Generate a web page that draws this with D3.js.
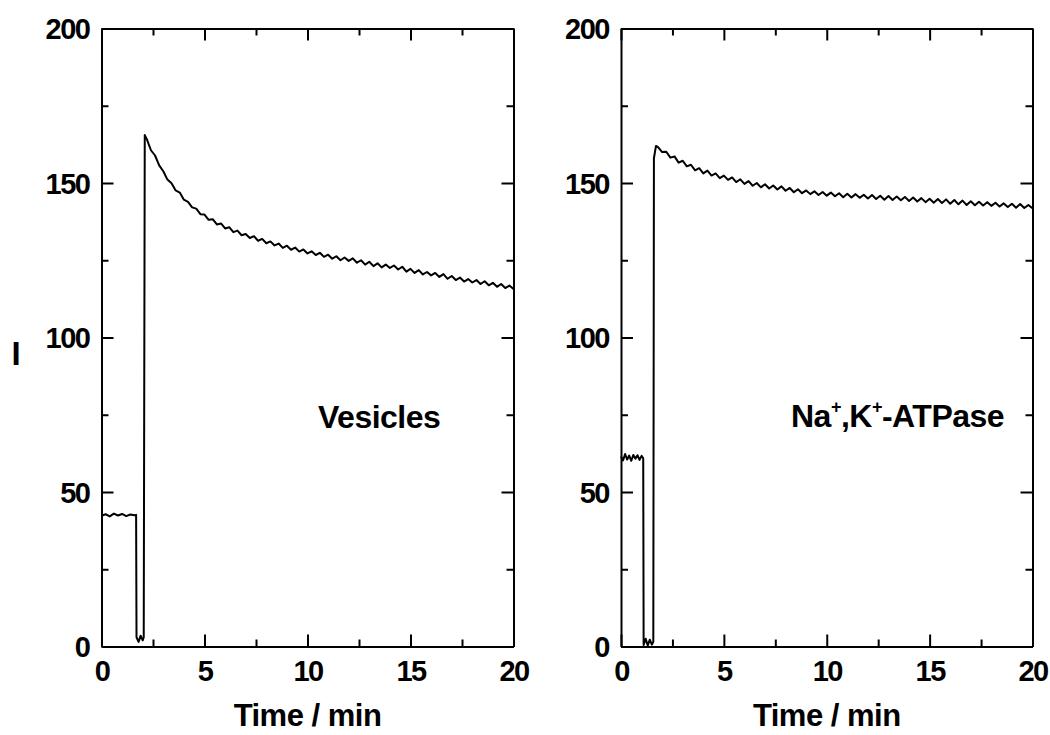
<!DOCTYPE html>
<html lang="en">
<head>
    <meta charset="utf-8">
    <title>Fluorescence intensity - vesicles / Na,K-ATPase</title>
    <script src="https://cdn.jsdelivr.net/npm/d3@7"></script>
    <style>
        body { margin: 0; background: #fff; }
        text { font-family: "Liberation Sans", Arial, sans-serif; font-weight: bold; fill: #000; }
    </style>
</head>
<body>
</body>
</html>
<script>
    // axis ticks
    var xTicks = [0, 5, 10, 15, 20];
    var xMinorTicks = [2.5, 7.5, 12.5, 17.5];
    var yTicks = [0, 50, 100, 150, 200];
    var yMinorTicks = [25, 75, 125, 175];
    var xLabel = "Time / min";
    var yLabel = "I";

    // left panel: vesicles (time in min, intensity)
    var vesiclesTime = [0, 0.2, 0.4, 0.6, 0.8, 1.0, 1.2, 1.4, 1.6, 1.68,
        1.7, 1.8, 1.9, 2.0, 2.05, 2.1,
        2.2, 2.4, 2.6, 2.8, 3.0, 3.2, 3.4, 3.6, 3.8, 4.0,
        4.2, 4.4, 4.6, 4.8, 5.0, 5.2, 5.4, 5.6, 5.8, 6.0,
        6.2, 6.4, 6.6, 6.8, 7.0, 7.2, 7.4, 7.6, 7.8, 8.0,
        8.2, 8.4, 8.6, 8.8, 9.0, 9.2, 9.4, 9.6, 9.8, 10.0,
        10.2, 10.4, 10.6, 10.8, 11.0, 11.2, 11.4, 11.6, 11.8, 12.0,
        12.2, 12.4, 12.6, 12.8, 13.0, 13.2, 13.4, 13.6, 13.8, 14.0,
        14.2, 14.4, 14.6, 14.8, 15.0, 15.2, 15.4, 15.6, 15.8, 16.0,
        16.2, 16.4, 16.6, 16.8, 17.0, 17.2, 17.4, 17.6, 17.8, 18.0,
        18.2, 18.4, 18.6, 18.8, 19.0, 19.2, 19.4, 19.6, 19.8, 20.0];
    var vesiclesI = [42.3, 42.8, 42.1, 43.0, 42.4, 42.9, 42.2, 42.7, 42.5, 42.6,
        3.0, 1.5, 3.5, 2.0, 3.0, 165.5,
        164.2, 160.6, 158.9, 155.7, 153.8, 151.1, 149.9, 147.6, 146.9, 144.6,
        143.9, 142.1, 141.7, 139.9, 139.8, 138.1, 138.3, 136.6, 136.9, 135.3,
        135.7, 134.1, 134.6, 133.1, 133.5, 132.2, 132.8, 131.3, 131.9, 130.5,
        131.1, 129.8, 130.4, 129.0, 129.7, 128.4, 129.1, 127.8, 128.5, 127.2,
        127.9, 126.7, 127.4, 126.1, 126.8, 125.5, 126.3, 125.0, 125.9, 124.8,
        125.6, 124.2, 125.0, 123.6, 124.5, 123.1, 124.0, 122.7, 123.6, 122.5,
        123.3, 122.0, 122.9, 121.3, 122.2, 120.9, 121.8, 120.4, 121.2, 120.1,
        120.9, 119.6, 120.5, 119.0, 119.9, 118.6, 119.4, 118.1, 118.9, 117.8,
        118.6, 117.3, 118.2, 116.9, 117.7, 116.4, 117.3, 116.0, 116.8, 115.7];

    // right panel: Na+,K+-ATPase
    var atpaseTime = [0, 0.1, 0.2, 0.3, 0.4, 0.5, 0.6, 0.7, 0.8, 0.9, 1.0, 1.08,
        1.1, 1.2, 1.3, 1.4, 1.5, 1.57, 1.6, 1.7,
        1.8, 2.0, 2.2, 2.4, 2.6, 2.8, 3.0, 3.2, 3.4, 3.6,
        3.8, 4.0, 4.2, 4.4, 4.6, 4.8, 5.0, 5.2, 5.4, 5.6,
        5.8, 6.0, 6.2, 6.4, 6.6, 6.8, 7.0, 7.2, 7.4, 7.6,
        7.8, 8.0, 8.2, 8.4, 8.6, 8.8, 9.0, 9.2, 9.4, 9.6,
        9.8, 10.0, 10.2, 10.4, 10.6, 10.8, 11.0, 11.2, 11.4, 11.6,
        11.8, 12.0, 12.2, 12.4, 12.6, 12.8, 13.0, 13.2, 13.4, 13.6,
        13.8, 14.0, 14.2, 14.4, 14.6, 14.8, 15.0, 15.2, 15.4, 15.6,
        15.8, 16.0, 16.2, 16.4, 16.6, 16.8, 17.0, 17.2, 17.4, 17.6,
        17.8, 18.0, 18.2, 18.4, 18.6, 18.8, 19.0, 19.2, 19.4, 19.6,
        19.8, 20.0];
    var atpaseI = [61.5, 60.2, 62.3, 60.5, 61.8, 60.1, 62.0, 60.8, 61.9, 60.4, 61.7, 60.9,
        0.5, 2.5, 0.3, 2.2, 0.6, 1.5, 158.0, 162.0,
        161.6, 160.0, 160.1, 158.2, 158.6, 156.6, 157.2, 155.4, 155.9, 154.1,
        154.8, 153.1, 154.0, 152.4, 153.1, 151.6, 152.4, 151.0, 151.8, 150.3,
        151.2, 149.7, 150.6, 149.1, 150.0, 148.6, 149.6, 148.2, 149.2, 147.9,
        148.9, 147.5, 148.4, 147.0, 148.0, 146.7, 147.6, 146.4, 147.3, 146.1,
        147.1, 145.9, 146.9, 145.7, 146.7, 145.4, 146.5, 145.3, 146.4, 145.2,
        146.2, 145.0, 146.1, 144.8, 145.9, 144.6, 145.8, 144.5, 145.6, 144.4,
        145.5, 144.2, 145.3, 144.0, 145.1, 143.8, 144.9, 143.6, 144.8, 143.5,
        144.7, 143.3, 144.5, 143.1, 144.3, 142.9, 144.1, 142.8, 143.9, 142.7,
        143.8, 142.6, 143.6, 142.4, 143.4, 142.2, 143.3, 142.0, 143.2, 141.9,
        142.9, 141.8];

    // canvas
    var width = 1050;
    var height = 735;
    var svg = d3.select("body")
            .append("svg")
            .attr("width", width)
            .attr("height", height);

    var top_y = 28.5;
    var bottom_y = 646.5;

    var panels = [
        {left: 101.5, right: 513.5, time: vesiclesTime, values: vesiclesI},
        {left: 621, right: 1032.5, time: atpaseTime, values: atpaseI}
    ];

    panels.forEach(function (p) {
        var x = d3.scaleLinear().domain([0, 20]).range([p.left, p.right]);
        var y = d3.scaleLinear().domain([0, 200]).range([bottom_y, top_y]);
        var g = svg.append("g");

        // trace
        var line = d3.line()
                .x(function (d) { return x(d[0]); })
                .y(function (d) { return y(d[1]); });
        g.append("path")
                .datum(d3.zip(p.time, p.values))
                .attr("fill", "none")
                .attr("stroke", "#000")
                .attr("stroke-width", 2)
                .attr("stroke-linejoin", "round")
                .attr("d", line);

        // inward ticks on all four sides, major and minor
        function addAxis(axisFn, scale, pos, major, minor, labelled) {
            var ga = g.append("g").attr("transform", pos);
            ga.call(axisFn(scale).tickValues(major).tickSizeInner(-12).tickSizeOuter(0)
                    .tickFormat(labelled ? d3.format("d") : ""));
            var gm = g.append("g").attr("transform", pos);
            gm.call(axisFn(scale).tickValues(minor).tickSizeInner(-7).tickSizeOuter(0).tickFormat(""));
            gm.select(".domain").remove();
            return ga;
        }
        var bottomAx = addAxis(d3.axisBottom, x, "translate(0," + bottom_y + ")", xTicks, xMinorTicks, true);
        addAxis(d3.axisTop, x, "translate(0," + top_y + ")", xTicks, xMinorTicks, false);
        var leftAx = addAxis(d3.axisLeft, y, "translate(" + p.left + ",0)", yTicks, yMinorTicks, true);
        addAxis(d3.axisRight, y, "translate(" + p.right + ",0)", yTicks, yMinorTicks, false);

        g.selectAll(".domain, .tick line")
                .attr("stroke", "#000")
                .attr("stroke-width", 2);

        bottomAx.selectAll("text")
                .attr("y", 34)
                .attr("dy", 0)
                .style("font-size", "29px")
                .style("letter-spacing", "-1.5px");
        leftAx.selectAll("text")
                .attr("x", -12)
                .attr("dy", "0.36em")
                .style("font-size", "29px")
                .style("letter-spacing", "-1.5px");
        g.selectAll(".tick text").attr("fill", "#000").style("font-family", null);

        // x label
        g.append("text")
                .attr("x", (p.left + p.right) / 2)
                .attr("y", 726)
                .attr("text-anchor", "middle")
                .style("font-size", "31px")
                .style("letter-spacing", "-0.5px")
                .text(xLabel);
    });

    // y label
    svg.append("text")
            .attr("x", 16)
            .attr("y", 365)
            .attr("text-anchor", "middle")
            .style("font-size", "33px")
            .text(yLabel);

    // panel names
    svg.append("text")
            .attr("x", 318)
            .attr("y", 428)
            .style("font-size", "32px")
            .style("letter-spacing", "-0.5px")
            .text("Vesicles");

    var atp = svg.append("text")
            .attr("x", 791)
            .attr("y", 427)
            .style("font-size", "32px")
            .style("letter-spacing", "-0.5px");
    atp.append("tspan").text("Na");
    atp.append("tspan").attr("dy", -14).style("font-size", "18px").text("+");
    atp.append("tspan").attr("dy", 14).text(",K");
    atp.append("tspan").attr("dy", -14).style("font-size", "18px").text("+");
    atp.append("tspan").attr("dy", 14).text("-ATPase");
</script>
